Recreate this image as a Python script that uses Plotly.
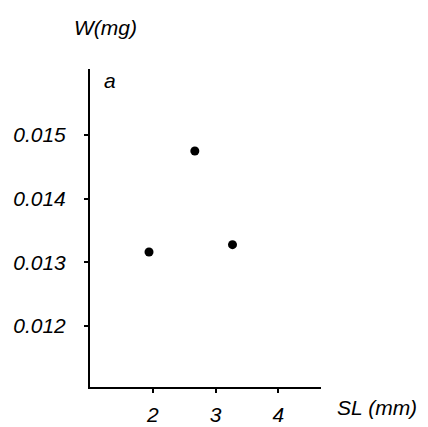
import plotly.graph_objects as go

# Data
sl_mm = [1.94, 2.67, 3.27]
w_mg = [0.013163, 0.01475, 0.013278]

x_ticks = [2, 3, 4]
x_tick_labels = ["2", "3", "4"]
y_ticks = [0.012, 0.013, 0.014, 0.015]
y_tick_labels = ["0.012", "0.013", "0.014", "0.015"]

FONT = "Liberation Sans"
fnt = dict(family=FONT, size=21, color="black", style="italic")

fig = go.Figure()
fig.add_trace(go.Scatter(
    x=sl_mm, y=w_mg, mode="markers",
    marker=dict(color="black", size=9),
    showlegend=False, hoverinfo="skip",
))

W, H = 428, 427
ml, mr, mt, mb = 90, 107, 69, 40
pw, ph = W - ml - mr, H - mt - mb

fig.update_layout(
    width=W, height=H,
    margin=dict(l=ml, r=mr, t=mt, b=mb, pad=0, autoexpand=False),
    paper_bgcolor="white", plot_bgcolor="white",
    xaxis=dict(
        range=[1, 4.68], showgrid=False, zeroline=False, automargin=False,
        showline=True, linecolor="black", linewidth=2,
        tickmode="array", tickvals=x_ticks, ticktext=x_tick_labels,
        ticks="outside", ticklen=4, tickwidth=1.5, tickcolor="black",
        tickfont=fnt, ticklabelstandoff=4, fixedrange=True,
    ),
    yaxis=dict(
        range=[0.01104, 0.01604], showgrid=False, zeroline=False, automargin=False,
        showline=True, linecolor="black", linewidth=2,
        tickmode="array", tickvals=y_ticks, ticktext=y_tick_labels,
        ticks="outside", ticklen=4, tickwidth=1.5, tickcolor="black",
        tickfont=fnt, ticklabelstandoff=14, fixedrange=True,
    ),
    annotations=[
        dict(text="W(mg)", xref="paper", yref="paper",
             x=(105 - ml) / pw, y=(H - mb - 27) / ph,
             showarrow=False, font=fnt, xanchor="center", yanchor="middle"),
        dict(text="a", xref="paper", yref="paper",
             x=(110 - ml) / pw, y=(H - mb - 80) / ph,
             showarrow=False, font=fnt, xanchor="center", yanchor="middle"),
        dict(text="SL (mm)", xref="paper", yref="paper",
             x=(377 - ml) / pw, y=(H - mb - 407) / ph,
             showarrow=False, font=fnt, xanchor="center", yanchor="middle"),
    ],
)

fig.write_html("out.html", config={"displayModeBar": False},
               post_script="document.body.style.margin='0px';")
